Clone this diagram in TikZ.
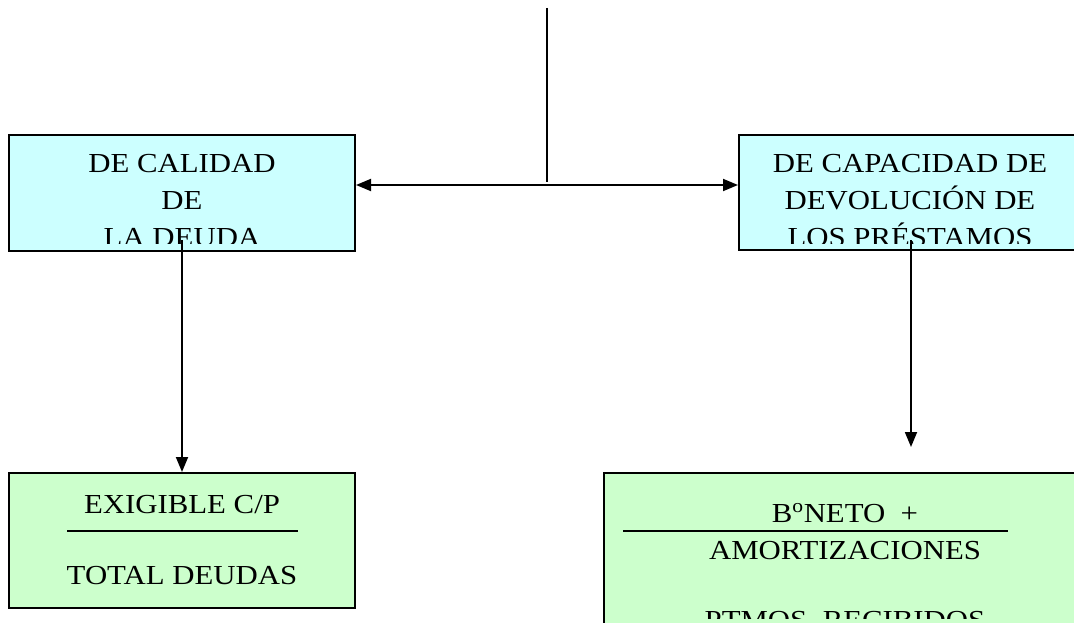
\documentclass[tikz,border=0pt]{standalone}
\usepackage{fontspec}
\setmainfont[FakeStretch=1.12]{Liberation Serif}
\usetikzlibrary{arrows.meta}
\definecolor{cyanfill}{HTML}{CCFFFF}
\definecolor{greenfill}{HTML}{CCFFCC}
\tikzset{
  upbox/.style={draw=black, line width=2pt, fill=cyanfill, inner sep=0pt, rectangle},
  lowbox/.style={draw=black, line width=2pt, fill=greenfill, inner sep=0pt, rectangle},
  txt/.style={font=\fontsize{27.5}{37}\selectfont, inner sep=0pt, anchor=base},
  conn/.style={line width=1.8pt},
  tipped/.style={-{Triangle[length=15pt,width=12pt]}},
  bothtipped/.style={{Triangle[length=15pt,width=12pt]}-{Triangle[length=15pt,width=12pt]}},
  barline/.style={line width=1.5pt}
}
\begin{document}
\begin{tikzpicture}[x=1pt,y=-1pt]
  \useasboundingbox (0,0) rectangle (1074,623);
  \clip (0,0) rectangle (1074,623);

  % upper boxes
  \node[upbox, minimum width=346pt, minimum height=116pt] (cal) at (182,193) {};
  \node[upbox, minimum width=344pt, minimum height=115pt] (cap) at (911,192.5) {};

  % lower boxes
  \node[lowbox, minimum width=346pt, minimum height=135pt] (exi) at (182,540.5) {};
  \node[lowbox, minimum width=484pt, minimum height=200pt] (ben) at (846,573) {};

  % texts of the upper boxes, cut at the lower edge
  \begin{scope}
    \clip (9,135) rectangle (355,243);
    \node[txt] (cal1) at (182,172) {DE CALIDAD};
    \node[txt] (cal2) at (182,209) {DE};
    \node[txt] (cal3) at (182,246) {LA DEUDA};
  \end{scope}
  \begin{scope}
    \clip (739,135) rectangle (1074,243);
    \node[txt] (cap1) at (910,172) {DE CAPACIDAD DE};
    \node[txt] (cap2) at (910,209) {DEVOLUCIÓN DE};
    \node[txt] (cap3) at (910,246) {LOS PRÉSTAMOS};
  \end{scope}

  % ratio texts
  \node[txt] (exi1) at (182,513) {EXIGIBLE C/P};
  \node[txt] (exi2) at (182,584) {TOTAL DEUDAS};
  \draw[barline] (67,531) -- (298,531);

  \begin{scope}
    \clip (604,473) rectangle (1074,618);
    \node[txt] (ben1) at (845,522) {B\textsuperscript{o}NETO\ \ +};
    \node[txt] (ben2) at (845,559) {AMORTIZACIONES};
    \node[txt] (ben3) at (845,629) {PTMOS. RECIBIDOS};
  \end{scope}
  \draw[barline] (623,531) -- (1008,531);

  % connectors
  \coordinate (top) at (547,8);
  \coordinate (hub) at (547,185);
  \coordinate (calfoot) at (182,240);
  \coordinate (capfoot) at (911,240);
  \coordinate (captip) at (911,447);

  \draw[conn] (top) -- ([yshift=3pt]hub);
  \draw[conn, bothtipped] (cal.east |- hub) -- (cap.west |- hub);
  \draw[conn, tipped] (calfoot) -- (calfoot |- exi.north);
  \draw[conn, tipped] (capfoot) -- (captip);
\end{tikzpicture}
\end{document}
